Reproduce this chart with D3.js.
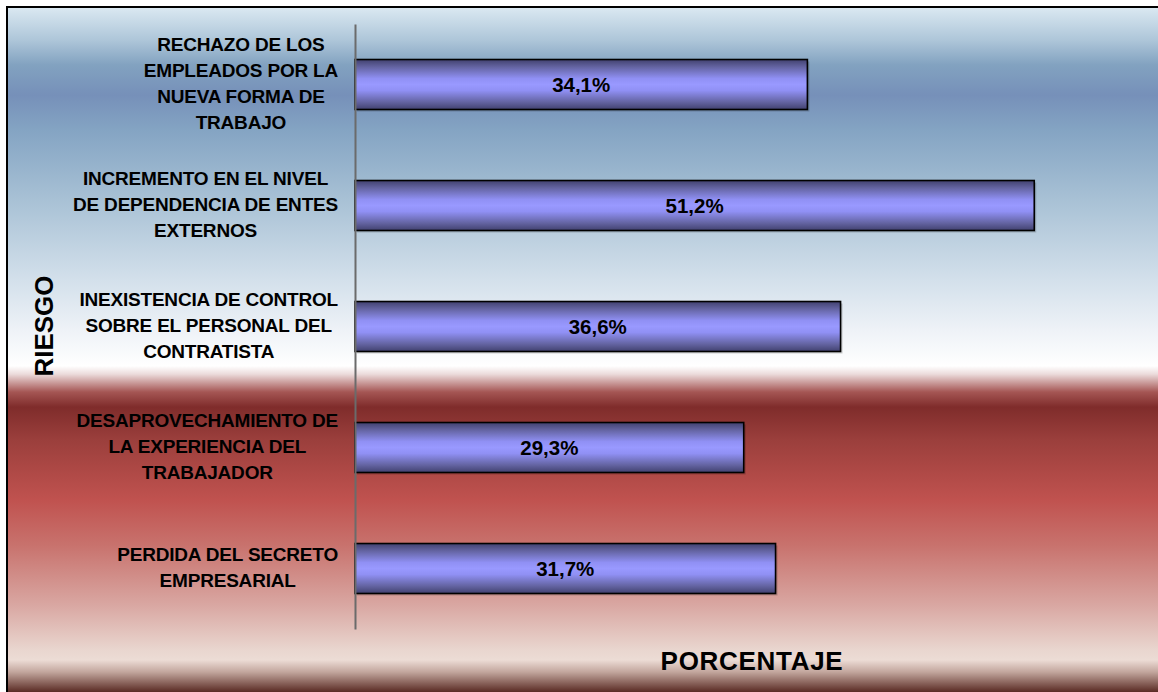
<!DOCTYPE html>
<html>
<head>
<meta charset="utf-8">
<script src="https://cdn.jsdelivr.net/npm/d3@7"></script>
<style>
  html, body { margin: 0; padding: 0; background: #ffffff; }
  svg { display: block; }
  text { font-family: "Liberation Sans", Arial, sans-serif; font-weight: bold; fill: #000; }
</style>
</head>
<body>
<svg id="chart" width="1158" height="692"></svg>
<script>
// Riesgos identificados y porcentaje de respuestas
const categories = [
  "RECHAZO DE LOS\nEMPLEADOS POR LA\nNUEVA FORMA DE\nTRABAJO",
  "INCREMENTO EN EL NIVEL\nDE DEPENDENCIA DE ENTES\nEXTERNOS",
  "INEXISTENCIA DE CONTROL\nSOBRE EL PERSONAL DEL\nCONTRATISTA",
  "DESAPROVECHAMIENTO DE\nLA EXPERIENCIA DEL\nTRABAJADOR",
  "PERDIDA DEL SECRETO\nEMPRESARIAL"
];
const values = [34.1, 51.2, 36.6, 29.3, 31.7];
const xTitle = "PORCENTAJE";
const yTitle = "RIESGO";

const W = 1158, H = 692;
const plot = { left: 355, right: 1151, top: 24, bottom: 629 };

const svg = d3.select("#chart");
const defs = svg.append("defs");

// Fondo: degradado vertical azul -> blanco -> rojo
const bgStops = [
  [0, "#dfecf4"], [7, "#dbe9f2"], [40, "#aec6d9"], [65, "#82a2c0"], [95, "#7690b9"],
  [130, "#84a4c3"], [200, "#a8c1d5"], [280, "#d3e0eb"], [330, "#eef2f7"],
  [366, "#ffffff"], [374, "#ecdcdc"], [392, "#a55654"], [407, "#7f2c2b"],
  [440, "#9b3f3c"], [500, "#c0524f"], [545, "#c8726d"], [605, "#d9a7a2"],
  [650, "#e9d6cf"], [660, "#ecdcd5"], [672, "#c2a69d"], [692, "#5a2b24"]
];
const bg = defs.append("linearGradient").attr("id", "bgGrad")
  .attr("gradientUnits", "userSpaceOnUse")
  .attr("x1", 0).attr("y1", 0).attr("x2", 0).attr("y2", H);
bg.selectAll("stop").data(bgStops).join("stop")
  .attr("offset", d => d[0] / H).attr("stop-color", d => d[1]);

// Relleno de las barras: degradado cilíndrico
const barStops = [
  [0, "#41416f"], [0.15, "#6464a2"], [0.38, "#9090f4"], [0.5, "#9999ff"],
  [0.62, "#9090f4"], [0.85, "#6464a2"], [1, "#41416f"]
];
const bar = defs.append("linearGradient").attr("id", "barGrad")
  .attr("x1", 0).attr("y1", 0).attr("x2", 0).attr("y2", 1);
bar.selectAll("stop").data(barStops).join("stop")
  .attr("offset", d => d[0]).attr("stop-color", d => d[1]);

// Área del gráfico con marco
svg.append("rect")
  .attr("x", 7).attr("y", 7).attr("width", W + 20).attr("height", H + 20)
  .attr("fill", "url(#bgGrad)").attr("stroke", "#000").attr("stroke-width", 2);

// Escalas
const x = d3.scaleLinear().domain([0, 60]).range([plot.left, plot.right]);
const y = d3.scaleBand().domain(d3.range(categories.length))
  .range([plot.top, plot.bottom]).paddingInner(0.587).paddingOuter(0.2935);

const locale = d3.formatLocale({ decimal: ",", thousands: ".", grouping: [3], currency: ["", ""] });
const fmt = locale.format(".1f");

// Sombra de las barras
svg.append("g").selectAll("rect").data(values).join("rect")
  .attr("x", x(0) + 2).attr("y", (d, i) => y(i) + 2)
  .attr("width", d => x(d) - x(0)).attr("height", y.bandwidth())
  .attr("fill", "#000").attr("opacity", 0.18);

// Barras
svg.append("g").selectAll("rect").data(values).join("rect")
  .attr("x", x(0)).attr("y", (d, i) => y(i))
  .attr("width", d => x(d) - x(0)).attr("height", y.bandwidth())
  .attr("fill", "url(#barGrad)").attr("stroke", "#000").attr("stroke-width", 1.6);

// Eje vertical
const yAxis = d3.axisLeft(y).tickSize(0).tickFormat("");
const axisG = svg.append("g").attr("transform", `translate(${plot.left},0)`).call(yAxis);
axisG.select(".domain").attr("stroke", "#6b6b6b").attr("stroke-width", 2);

// Etiquetas de valor
svg.append("g").selectAll("text").data(values).join("text")
  .attr("x", d => (x(0) + x(d)) / 2)
  .attr("y", (d, i) => y(i) + y.bandwidth() / 2)
  .attr("dy", "0.36em")
  .attr("text-anchor", "middle")
  .style("font-size", "20.5px")
  .text(d => fmt(d) + "%");

// Etiquetas de categoría: bloque alineado a la derecha, líneas centradas
const lineH = 26, labelRight = 338;
categories.forEach((c, i) => {
  const lines = c.split("\n");
  const cy = y(i) + y.bandwidth() / 2 - 1.5;
  const g = svg.append("g");
  const t = g.selectAll("text").data(lines).join("text")
    .attr("y", (l, k) => cy + (k - (lines.length - 1) / 2) * lineH)
    .attr("dy", "0.36em")
    .attr("text-anchor", "middle")
    .style("font-size", "19px")
    .style("letter-spacing", "-0.2px")
    .text(l => l);
  const maxW = d3.max(t.nodes(), n => n.getComputedTextLength());
  t.attr("x", labelRight - maxW / 2);
});

// Títulos de ejes
svg.append("text")
  .attr("x", 752).attr("y", 670)
  .attr("text-anchor", "middle")
  .style("font-size", "26px")
  .style("letter-spacing", "0.7px")
  .text(xTitle);

svg.append("text")
  .attr("transform", "translate(53,326) rotate(-90)")
  .attr("text-anchor", "middle")
  .style("font-size", "26px")
  .text(yTitle);
</script>
</body>
</html>
